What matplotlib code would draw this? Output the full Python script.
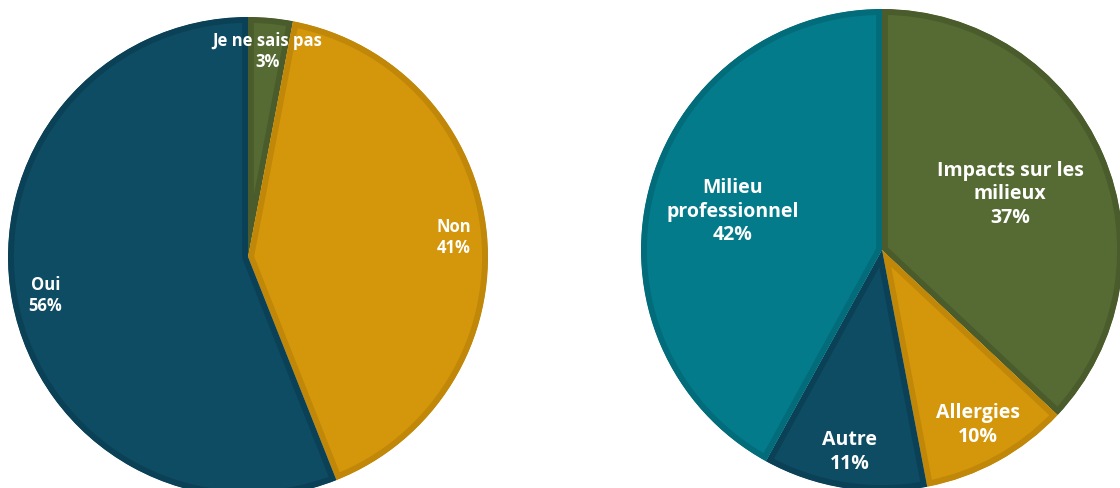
import matplotlib
matplotlib.use("Agg")
import matplotlib.pyplot as plt
import numpy as np

# Data
left_labels = ["Je ne sais pas", "Non", "Oui"]
left_values = [3, 41, 56]
right_labels = ["Impacts sur les\nmilieux", "Allergies", "Autre", "Milieu\nprofessionnel"]
right_values = [37, 10, 11, 42]

# Styles
left_colors = ["#566B33", "#D4960A", "#0E4C63"]
left_edges = ["#4A5C2B", "#C08708", "#0B4157"]
right_colors = ["#566B33", "#D4960A", "#0E4C63", "#037B8B"]
right_edges = ["#4A5C2B", "#C08708", "#0B4157", "#026C7B"]
left_dist = [0.86, 0.86, 0.86]
right_dist = [0.58, 0.83, 0.85, 0.64]

W, H = 1120, 488
fig = plt.figure(figsize=(W / 100, H / 100), dpi=100)
fig.patch.set_facecolor("white")


def draw_pie(cx, cy, r, values, labels, colors, edges, dists, fsize):
    ax = fig.add_axes([(cx - r) / W, (H - cy - r) / H, 2 * r / W, 2 * r / H])
    ax.axis("off")
    wedges, _ = ax.pie(values, colors=colors, startangle=90, counterclock=False,
                       radius=1, wedgeprops=dict(linewidth=8.5))
    ax.set_xlim(-1, 1)
    ax.set_ylim(-1, 1)
    ax.set_aspect("auto")
    for w, ec in zip(wedges, edges):
        w.set_edgecolor(ec)
        w.set_clip_on(True)
        w.set_clip_path(w)
    total = sum(values)
    for w, lab, v, d in zip(wedges, labels, values, dists):
        ang = np.deg2rad((w.theta1 + w.theta2) / 2)
        ax.text(d * np.cos(ang), d * np.sin(ang), f"{lab}\n{round(100 * v / total)}%",
                ha="center", va="center", color="white", fontsize=fsize,
                fontweight="bold", family="Open Sans", linespacing=1.25)
    return ax


draw_pie(248, 257, 240, left_values, left_labels, left_colors, left_edges, left_dist, 12)
draw_pie(882, 250, 241, right_values, right_labels, right_colors, right_edges, right_dist, 14)

fig.savefig("out.png", dpi=100, facecolor="white")
